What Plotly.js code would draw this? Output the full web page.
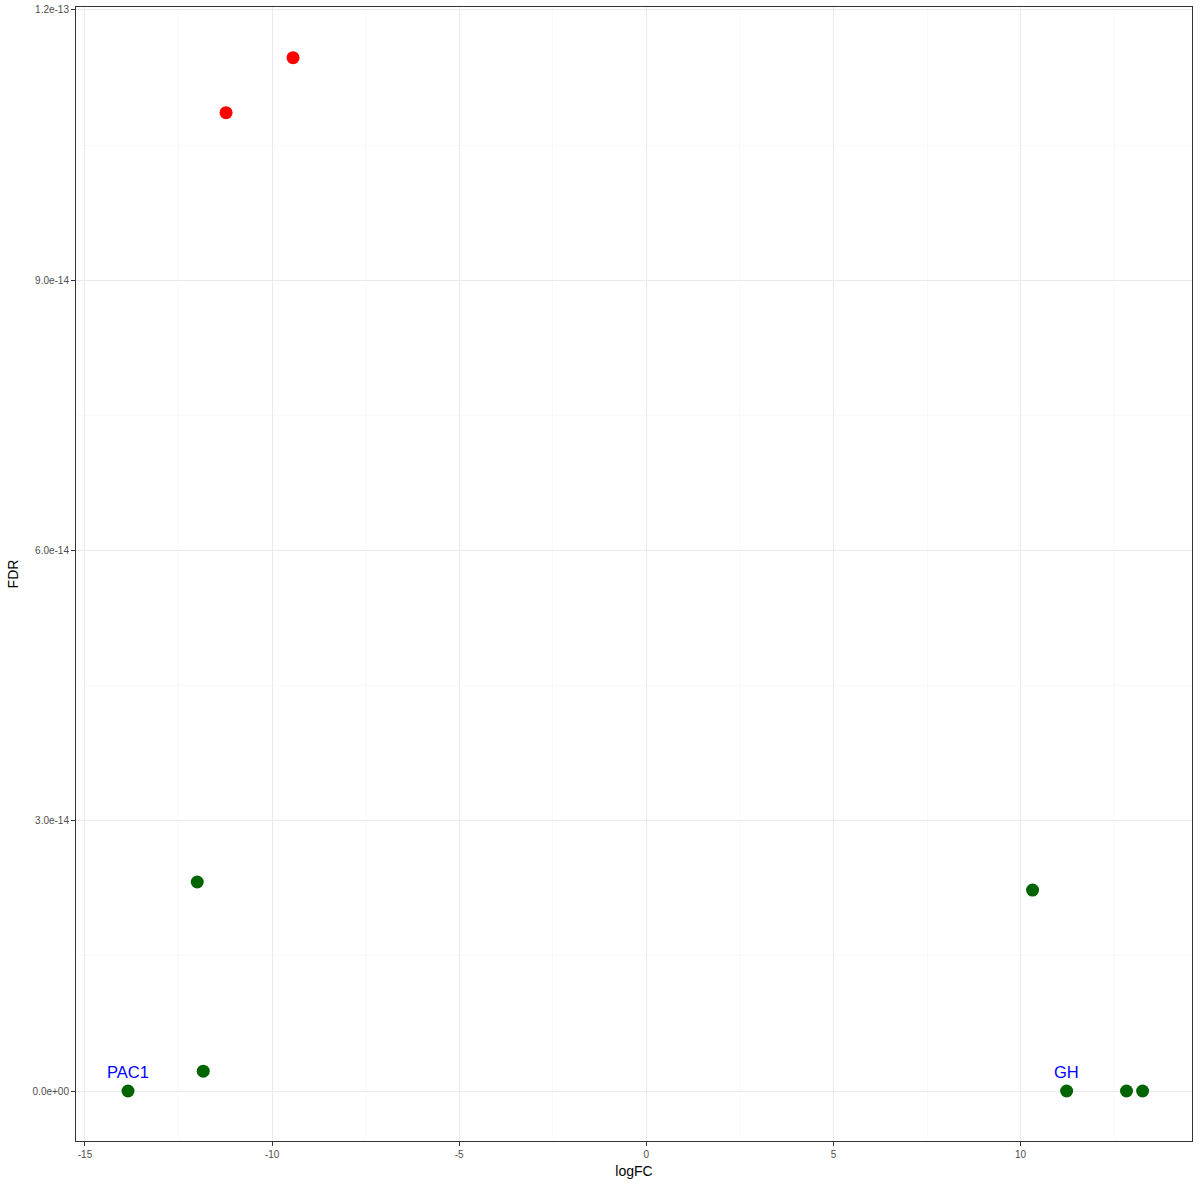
<!DOCTYPE html>
<html>
<head>
<meta charset="utf-8">
<script src="https://cdn.plot.ly/plotly-3.0.1.min.js"></script>
<style>html,body{margin:0;padding:0;background:#fff;}#chart{width:1200px;height:1186px;}</style>
</head>
<body>
<div id="chart"></div>
<script>
// Data
const redLogFC = [-11.23, -9.44];
const redFDR = [1.086e-13, 1.147e-13];
const greenLogFC = [-12.0, -11.84, -13.85, 10.32, 11.23, 12.83, 13.26];
const greenFDR = [2.32e-14, 2.2e-15, 0, 2.23e-14, 0, 0, 0];
const labelGenes = ["PAC1", "GH"];
const labelLogFC = [-13.85, 11.23];
const labelFDR = [0, 0];
const xTickVals = [-15, -10, -5, 0, 5, 10];
const xTickText = ["-15", "-10", "-5", "0", "5", "10"];
const yTickVals = [0, 3e-14, 6e-14, 9e-14, 1.2e-13];
const yTickText = ["0.0e+00", "3.0e-14", "6.0e-14", "9.0e-14", "1.2e-13"];

const traces = [
  {x: greenLogFC, y: greenFDR, mode: 'markers', type: 'scatter',
   marker: {color: '#006400', size: 13}, hoverinfo: 'x+y'},
  {x: redLogFC, y: redFDR, mode: 'markers', type: 'scatter',
   marker: {color: '#FF0000', size: 13}, hoverinfo: 'x+y'}
];

const annotations = labelGenes.map((g, i) => ({
  x: labelLogFC[i], y: labelFDR[i], xref: 'x', yref: 'y',
  text: g, showarrow: false, yshift: 19,
  font: {family: 'Liberation Sans, Arial, sans-serif', size: 16.5, color: '#0000FF'}
}));

const layout = {
  width: 1200, height: 1186,
  margin: {l: 76, r: 8, t: 7, b: 45},
  paper_bgcolor: '#fff', plot_bgcolor: '#fff',
  showlegend: false,
  font: {family: 'Liberation Sans, Arial, sans-serif'},
  xaxis: {
    range: [-15.24, 14.58], zeroline: false,
    tickvals: xTickVals, ticktext: xTickText,
    tickfont: {size: 10, color: '#4d4d4d'},
    ticks: 'outside', ticklen: 4, tickcolor: '#333333', tickwidth: 1,
    gridcolor: '#ebebeb', gridwidth: 1,
    minor: {dtick: 5, tick0: -12.5, showgrid: true, gridcolor: '#f5f5f5', gridwidth: 0.6, ticks: ''},
    showline: true, linecolor: '#333333', linewidth: 1, mirror: true,
    title: {text: 'logFC', font: {size: 14, color: '#000'}, standoff: 7}
  },
  yaxis: {
    range: [-5.55e-15, 1.2033e-13], zeroline: false,
    tickvals: yTickVals, ticktext: yTickText,
    tickfont: {size: 10, color: '#4d4d4d'},
    ticks: 'outside', ticklen: 4, tickcolor: '#333333', tickwidth: 1,
    gridcolor: '#ebebeb', gridwidth: 1,
    minor: {tickvals: [1.5e-14, 4.5e-14, 7.5e-14, 1.05e-13], showgrid: true, gridcolor: '#f5f5f5', gridwidth: 0.6, ticks: ''},
    showline: true, linecolor: '#333333', linewidth: 1, mirror: true,
    title: {text: 'FDR', font: {size: 14, color: '#000'}, standoff: 10}
  },
  annotations: annotations
};

Plotly.newPlot('chart', traces, layout, {displayModeBar: false, staticPlot: true});
</script>
</body>
</html>
